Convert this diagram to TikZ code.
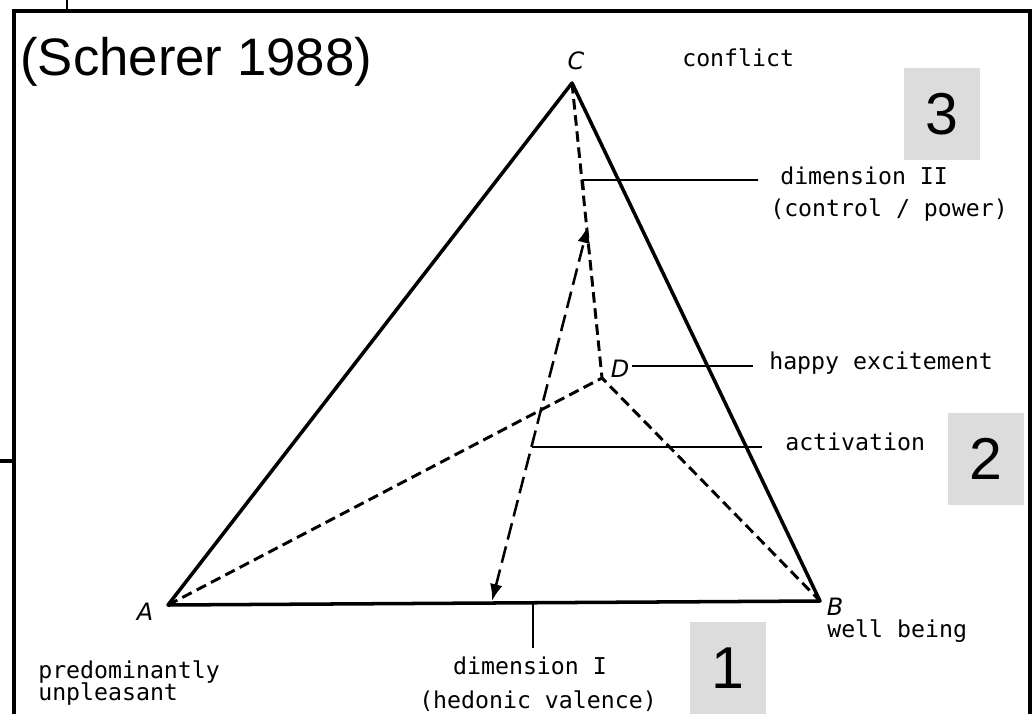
\documentclass[tikz,border=0pt]{standalone}
\usepackage{fontspec}
\setmainfont{Liberation Sans}
\setmonofont{DejaVu Sans Mono}
\newfontfamily\lettres{DejaVu Sans}
\usepackage{xcolor}
\usetikzlibrary{arrows.meta,positioning,calc}
\definecolor{grisboite}{HTML}{DCDCDC}

\begin{document}
\begin{tikzpicture}[x=0.025cm,y=-0.025cm,
    legende/.style = {font=\ttfamily\fontsize{16.5}{19}\selectfont,inner sep=0pt},
    sommet/.style  = {font=\lettres\itshape\fontsize{17}{18}\selectfont,inner sep=0pt},
    arete/.style   = {line width=2.5pt,line join=round},
    tirets/.style  = {line width=2.1pt,dash pattern=on 7.5pt off 4pt},
    renvoi/.style  = {line width=1.2pt},
    numero/.style  = {fill=grisboite,inner sep=0pt,minimum width=1.9cm,
                      minimum height=2.3cm,font=\fontsize{42}{42}\selectfont},
  ]
  \useasboundingbox (0,0) rectangle (1036,714);

  % Cadre
  \draw[line width=2.5pt] (14,714) -- (14,11) -- (1030,11) -- (1030,714);
  \draw[line width=1.6pt] (67,0) -- (67,11);
  \draw[line width=2.5pt] (0,461) -- (14,461);

  \node[anchor=west,inner sep=0pt,font=\fontsize{37.5}{40}\selectfont]
    (source) at (20,62) {(Scherer 1988)};

  % Sommets de la pyramide
  \coordinate (A) at (168,605);
  \coordinate (B) at (820,601);
  \coordinate (C) at (572,83);
  \coordinate (D) at (602,378);
  \node[sommet] (lA) at (145,612) {A};
  \node[sommet] (lB) at (835,607) {B};
  \node[sommet] (lC) at (576,61)  {C};
  \node[sommet] (lD) at (620,369) {D};

  % Aretes
  \draw[arete] (A) -- (B) -- (C) -- cycle;
  \draw[tirets] (A) -- (D) -- (B);
  \draw[tirets] (C) -- (D);

  % Double fleche
  \coordinate (haut) at (588,226);
  \coordinate (bas)  at (492,601);
  \draw[tirets,line width=1.8pt,dash pattern=on 12pt off 5pt,
        {Latex[length=12pt,width=9pt]}-{Latex[length=12pt,width=9pt]}]
    (bas) -- (haut);

  % Renvois vers les legendes
  \coordinate (pII) at (583,180);  \coordinate (fII) at (758,180);
  \coordinate (tickII) at (584,190);
  \coordinate (pD)  at (632,366);  \coordinate (fD)  at (753,366);
  \coordinate (pAct) at (532,447); \coordinate (fAct) at (762,447);
  \coordinate (pI)  at (533,603);  \coordinate (fI)  at (533,648);
  \draw[renvoi] (tickII) -- (pII) -- (fII);
  \draw[renvoi] (pD) -- (fD);
  \draw[renvoi] (pAct) -- (fAct);
  \draw[renvoi] (pI) -- (fI);

  % Legendes
  \node[legende,anchor=mid west] (conflit) at (682,63)  {conflict};
  \node[legende,anchor=mid west] (dimII)   at (780,181) {dimension II};
  \node[legende,anchor=mid west] (ctrl)    at (770,213) {(control / power)};
  \node[legende,anchor=mid west] (joie)    at (769,366) {happy excitement};
  \node[legende,anchor=mid west] (activ)   at (785,447) {activation};
  \node[legende,anchor=mid west] (bienetre) at (827,634) {well being};
  \node[legende,anchor=mid] (dimI)   at (530,671) {dimension I};
  \node[legende,anchor=mid] (valence) at (538,705) {(hedonic valence)};
  \node[legende,anchor=mid west] (desag1) at (38,675) {predominantly};
  \node[legende,anchor=mid west] (desag2) at (38,697) {unpleasant};

  % Numeros
  \foreach \n/\pos in {3/{(942,114)},2/{(986,459)},1/{(728,668)}}
    \node[numero] (boite\n) at \pos {\n};

\end{tikzpicture}
\end{document}
